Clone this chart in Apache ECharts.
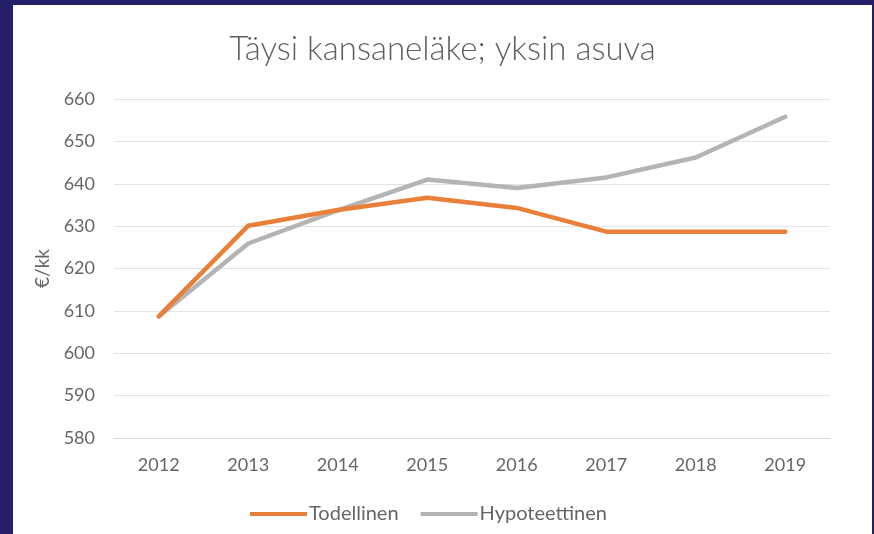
<!DOCTYPE html>
<html><head><meta charset="utf-8">
<script src="https://cdn.jsdelivr.net/npm/echarts@6/dist/echarts.min.js"></script>
<style>
html,body{margin:0;padding:0;width:874px;height:534px;background:#231f6b;overflow:hidden;}
#c{position:absolute;left:13px;top:5px;width:859px;height:529px;background:#fff;}
</style></head>
<body><div id="c"></div>
<script>
const years = ['2012','2013','2014','2015','2016','2017','2018','2019'];
const todellinen = [608.7, 630.1, 633.8, 636.7, 634.3, 628.7, 628.7, 628.7];
const hypoteettinen = [608.7, 625.9, 633.7, 641.0, 639.0, 641.5, 646.2, 655.8];
const yMin = 580, yMax = 660, yStep = 10;

const chart = echarts.init(document.getElementById('c'), null, {renderer:'canvas'});
const font = 'Lato';
const txt = '#666666';
chart.setOption({
  animation:false,
  title:{text:'Täysi kansaneläke; yksin asuva', left:'center', top:23,
    textStyle:{fontFamily:font, fontWeight:300, fontSize:33, color:'#5f5f5f'}},
  grid:{left:101, right:42, top:94, bottom:96},
  legend:{bottom:5, left:232, itemGap:22, itemWidth:57, itemHeight:4, icon:'rect',
    textStyle:{fontFamily:font, fontSize:20, color:txt, padding:[0,0,0,-3]},
    data:['Todellinen','Hypoteettinen']},
  xAxis:{type:'category', data:years, boundaryGap:true,
    axisLine:{lineStyle:{color:'#d9d9d9', width:1}}, axisTick:{show:false},
    axisLabel:{fontFamily:font, fontSize:18, color:txt, margin:18}},
  yAxis:{type:'value', min:yMin, max:yMax, interval:yStep, name:'€/kk', nameLocation:'middle', nameGap:60,
    nameTextStyle:{fontFamily:font, fontSize:19, color:txt},
    axisLine:{show:false}, axisTick:{show:false},
    axisLabel:{fontFamily:font, fontSize:18, color:txt, margin:19},
    splitLine:{lineStyle:{color:'#e3e3e3', width:1}}},
  series:[
    {name:'Todellinen', type:'line', data:todellinen, symbol:'none', z:3,
      lineStyle:{color:'#e8803a', width:4.5, join:'round', cap:'round'}, itemStyle:{color:'#e8803a'}},
    {name:'Hypoteettinen', type:'line', data:hypoteettinen, symbol:'none', z:2,
      lineStyle:{color:'#b4b4b4', width:4.5, join:'round', cap:'round'}, itemStyle:{color:'#b4b4b4'}}
  ]
});
</script></body></html>
